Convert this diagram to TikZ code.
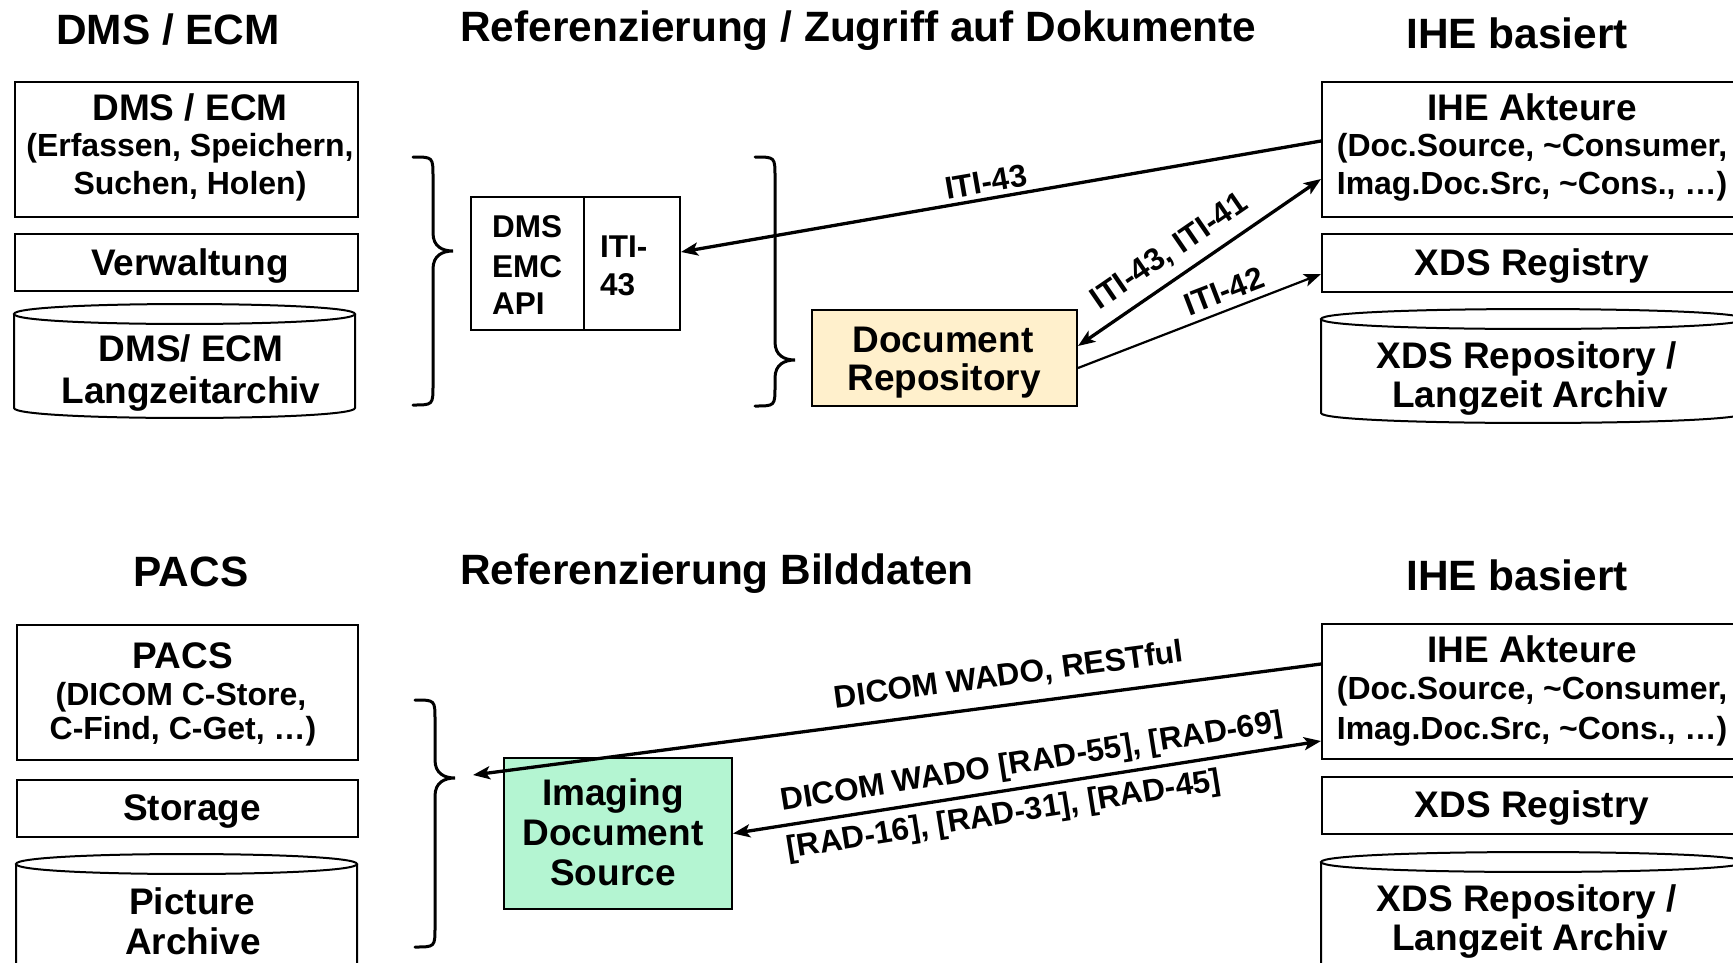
\documentclass[tikz,border=0pt]{standalone}
\usepackage{fontspec}
\setmainfont{Liberation Sans}
\usetikzlibrary{arrows.meta}

\definecolor{repoyellow}{RGB}{255,240,204}
\definecolor{srcgreen}{RGB}{180,245,210}

\tikzset{
  box/.style={draw, line width=2pt, inner sep=0pt, anchor=north west},
  hd/.style={font=\fontsize{42.4}{48}\selectfont\bfseries, anchor=base, inner sep=0pt},
  tl/.style={font=\fontsize{37}{42}\selectfont\bfseries, anchor=base, inner sep=0pt},
  ts/.style={font=\fontsize{32}{36}\selectfont\bfseries, anchor=base, inner sep=0pt},
  tlab/.style={font=\fontsize{31.5}{35}\selectfont\bfseries, inner sep=0pt},
  tip/.style={-{Stealth[length=17pt,width=13pt,inset=4pt]}},
  conn/.style={line width=3.3pt, tip},
  conntwo/.style={line width=3.3pt, {Stealth[length=17pt,width=13pt,inset=4pt]}-{Stealth[length=17pt,width=13pt,inset=4pt]}},
  bracepath/.style={line width=3pt, line cap=round},
  cylpath/.style={line width=2pt}
}

% curly brace opening to the left: x0, top y, tip y, bottom y
\newcommand\drawbrace[4]{%
  \draw[bracepath] (#1,#2) .. controls ({#1+20},#2) and ({#1+20},#2) .. ({#1+20},{#2+20})
    -- ({#1+20},{#3-18}) .. controls ({#1+20},{#3-4}) and ({#1+30},#3) .. ({#1+40},#3)
    .. controls ({#1+30},#3) and ({#1+20},{#3+4}) .. ({#1+20},{#3+18})
    -- ({#1+20},{#4-20}) .. controls ({#1+20},#4) and ({#1+20},#4) .. (#1,#4);
}

% storage cylinder: left x, right x, top y, bottom y
\newcommand\drawcyl[4]{%
  \draw[cylpath] (#1,{#3+10}) .. controls (#1,{#3-3.3}) and (#2,{#3-3.3}) .. (#2,{#3+10})
    .. controls (#2,{#3+23.3}) and (#1,{#3+23.3}) .. cycle;
  \draw[cylpath] (#1,{#3+10}) -- (#1,{#4-10})
    .. controls (#1,{#4+3.3}) and (#2,{#4+3.3}) .. (#2,{#4-10}) -- (#2,{#3+10});
}

\begin{document}
\begin{tikzpicture}[x=1pt,y=-1pt]
\useasboundingbox (0,0) rectangle (1733,962);
\clip (0,0) rectangle (1733,962);

% ---------------- upper part: documents ----------------
\node[hd] (h1) at (168,44) {DMS / ECM};
\node[hd, anchor=base west] (h2) at (460,41) {Referenzierung / Zugriff auf Dokumente};
\node[hd] (h3) at (1517,48) {IHE basiert};

% DMS / ECM stack
\node[box, minimum width=343pt, minimum height=135pt] (dms) at (14,81) {};
\node[tl] (dmsA) at (190,120) {DMS / ECM};
\node[ts] (dmsB) at (190,156) {(Erfassen, Speichern,};
\node[ts] (dmsC) at (190,194) {Suchen, Holen)};
\node[box, minimum width=343pt, minimum height=57pt] (verw) at (14,233) {};
\node[tl] (verwT) at (190,275) {Verwaltung};
\drawcyl{14}{355}{304}{418}
\node[tl] (arcA) at (191,361) {DMS/ ECM};
\node[tl] (arcB) at (191,403) {Langzeitarchiv};

\drawbrace{413}{157}{251}{405}

% API box
\node[box, minimum width=209pt, minimum height=133pt] (api) at (470,196) {};
\draw[line width=2pt] ([xshift=114pt]api.north west) -- ([xshift=114pt]api.south west);
\node[tlab, anchor=base west] (api1) at (492,237) {DMS};
\node[tlab, anchor=base west] (api2) at (492,277) {EMC};
\node[tlab, anchor=base west] (api3) at (492,314) {API};
\node[tlab, anchor=base west] (api4) at (600,257) {ITI-};
\node[tlab, anchor=base west] (api5) at (600,295) {43};

\drawbrace{755}{157}{360}{406}

% document repository
\node[box, fill=repoyellow, minimum width=265pt, minimum height=96pt] (repo) at (811,309) {};
\node[tl] (repoA) at (943,352) {Document};
\node[tl] (repoB) at (944,390) {Repository};

% IHE side
\node[box, minimum width=424pt, minimum height=135pt] (ihe1) at (1321,81) {};
\node[tl] (iheA) at (1532,120) {IHE Akteure};
\node[ts] (iheB) at (1532,156) {(Doc.Source, \textasciitilde Consumer,};
\node[ts] (iheC) at (1532,194) {Imag.Doc.Src, \textasciitilde Cons., …)};
\node[box, minimum width=424pt, minimum height=58pt] (reg1) at (1321,233) {};
\node[tl] (regT) at (1532,275) {XDS Registry};
\drawcyl{1321}{1745}{309}{423}
\node[tl] (xrA) at (1527,368) {XDS Repository /};
\node[tl] (xrB) at (1530,407) {Langzeit Archiv};

% transactions
\draw[conn] ([yshift=8.5pt]ihe1.west) -- ([yshift=11.5pt]api.east);
\draw[conntwo] ([yshift=12pt]repo.east) -- ([yshift=-29.5pt]ihe1.west);
\draw[conn, line width=2.2pt] ([yshift=-10pt]repo.east) -- ([yshift=-11pt]reg1.west);
\node[tlab, rotate=9.8] (l1) at (986,182) {ITI-43};
\node[tlab, rotate=34.5] (l2) at (1170,252) {ITI-43, ITI-41};
\node[tlab, rotate=21] (l3) at (1224,291) {ITI-42};

% ---------------- lower part: images ----------------
\node[hd] (h4) at (191,586) {PACS};
\node[hd, anchor=base west] (h5) at (460,584) {Referenzierung Bilddaten};
\node[hd] (h6) at (1517,590) {IHE basiert};

% PACS stack
\node[box, minimum width=341pt, minimum height=135pt] (pacs) at (16,624) {};
\node[tl] (pacsA) at (183,668) {PACS};
\node[ts] (pacsB) at (181,705) {(DICOM C-Store,};
\node[ts] (pacsC) at (183,739) {C-Find, C-Get, …)};
\node[box, minimum width=341pt, minimum height=57pt] (stor) at (16,779) {};
\node[tl] (storT) at (192,820) {Storage};
\drawcyl{16}{357}{854}{1000}
\node[tl] (picA) at (192,914) {Picture};
\node[tl] (picB) at (193,954) {Archive};

\drawbrace{415}{700}{778}{947}
\coordinate (pacsIn) at (473,775);

% imaging document source
\node[box, fill=srcgreen, minimum width=228pt, minimum height=151pt] (isrc) at (503,757) {};
\node[tl] (isA) at (613,805) {Imaging};
\node[tl] (isB) at (613,845) {Document};
\node[tl] (isC) at (613,885) {Source};

% IHE side
\node[box, minimum width=424pt, minimum height=135pt] (ihe2) at (1321,623) {};
\node[tl] (ihe2A) at (1532,662) {IHE Akteure};
\node[ts] (ihe2B) at (1532,699) {(Doc.Source, \textasciitilde Consumer,};
\node[ts] (ihe2C) at (1532,739) {Imag.Doc.Src, \textasciitilde Cons., …)};
\node[box, minimum width=424pt, minimum height=57pt] (reg2) at (1321,776) {};
\node[tl] (reg2T) at (1532,817) {XDS Registry};
\drawcyl{1321}{1745}{852}{1000}
\node[tl] (xr2A) at (1527,911) {XDS Repository /};
\node[tl] (xr2B) at (1530,950) {Langzeit Archiv};

% transactions
\draw[conn] ([yshift=27.5pt]ihe2.west) -- (pacsIn);
\draw[conntwo] (isrc.east) -- ([yshift=-49.5pt]ihe2.west);
\node[tlab, rotate=7.6] (l4) at (1009,676) {DICOM WADO, RESTful};
\node[tlab, rotate=9] (l5) at (1032,763) {DICOM WADO [RAD-55], [RAD-69]};
\node[tlab, rotate=9] (l6) at (1004,816) {[RAD-16], [RAD-31], [RAD-45]};
\end{tikzpicture}
\end{document}
